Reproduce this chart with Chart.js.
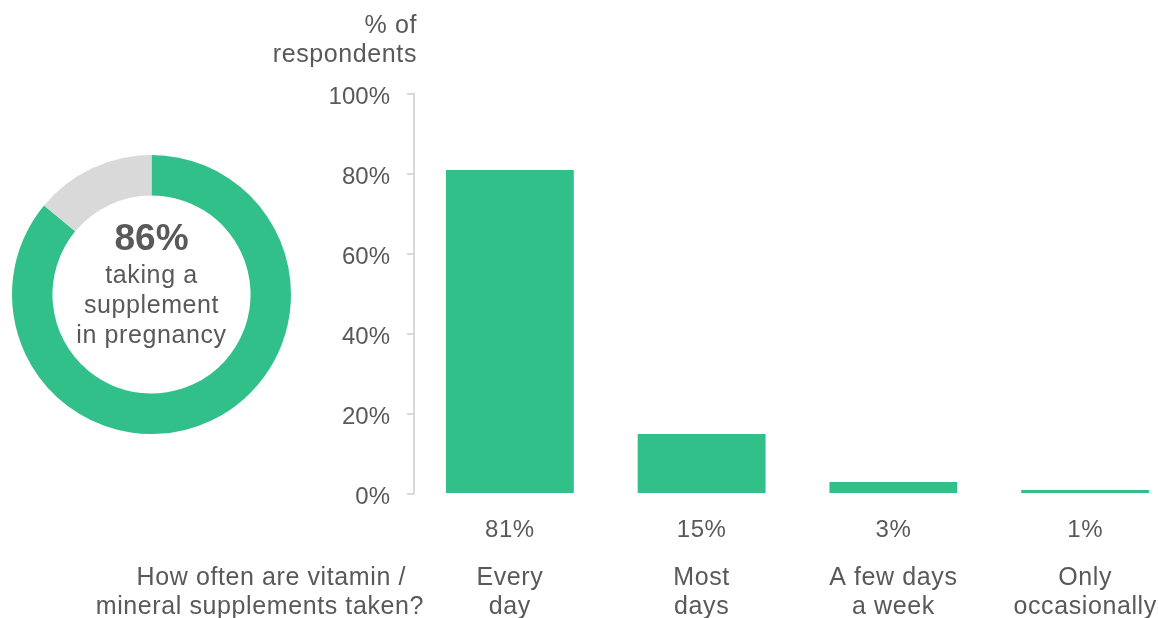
<!DOCTYPE html>
<html lang="en">

<head>
  <meta charset="UTF-8">
  <title>Supplement use in pregnancy</title>
  <script src="https://cdn.jsdelivr.net/npm/chart.js"></script>
  <style>
    html, body {
      margin: 0;
      padding: 0;
      width: 1158px;
      height: 618px;
      overflow: hidden;
      background: #fff;
    }

    #barChart {
      position: absolute;
      left: 0;
      top: 0;
    }

    #ringChart {
      position: absolute;
      left: 12px;
      top: 155px;
    }
  </style>
</head>

<body>
  <canvas id="ringChart" width="279" height="279"></canvas>
  <canvas id="barChart" width="1190" height="618"></canvas>

  <script>
    // share taking any supplement (ring) and how often they take it (bars)
    const takingSupplement = 86;
    const notTaking = 100 - takingSupplement;
    const ringLabel = ['taking a', 'supplement', 'in pregnancy'];

    const frequencyLabels = [['Every', 'day'], ['Most', 'days'], ['A few days', 'a week'], ['Only', 'occasionally']];
    const frequencyShares = [81, 15, 3, 1];
    const yTickStep = 20;
    const yTitle = ['% of', 'respondents'];
    const question = ['How often are vitamin /', 'mineral supplements taken?'];

    const verde = '#31c08a';
    const cinza = '#d9d9d9';
    const texto = '#595959';
    const fonte = "'Liberation Sans', Arial, sans-serif";

    Chart.defaults.font.family = fonte;
    Chart.defaults.color = texto;

    // texto no meio do anel
    const textoCentro = {
      id: 'textoCentro',
      afterDraw(chart) {
        const { ctx, chartArea } = chart;
        const cx = (chartArea.left + chartArea.right) / 2;
        const cy = (chartArea.top + chartArea.bottom) / 2;
        ctx.save();
        ctx.fillStyle = texto;
        ctx.textAlign = 'center';
        ctx.textBaseline = 'middle';
        ctx.font = 'bold 37px ' + fonte;
        ctx.fillText(takingSupplement + '%', cx, cy - 55);
        ctx.font = '25px ' + fonte;
        ctx.letterSpacing = '0.6px';
        ringLabel.forEach((linha, i) => {
          ctx.fillText(linha, cx, cy - 18 + i * 30);
        });
        ctx.restore();
      }
    };

    new Chart(document.getElementById('ringChart'), {
      type: 'doughnut',
      data: {
        labels: ['Taking a supplement', 'Not taking'],
        datasets: [{
          data: [takingSupplement, notTaking],
          backgroundColor: [verde, cinza],
          borderWidth: 0
        }]
      },
      options: {
        responsive: false,
        animation: false,
        cutout: '71%',
        plugins: {
          legend: { display: false },
          tooltip: { enabled: false }
        }
      },
      plugins: [textoCentro]
    });

    // rótulos do gráfico de barras: título do eixo, valores, categorias e pergunta
    const rotulosBarras = {
      id: 'rotulosBarras',
      afterDraw(chart) {
        const { ctx } = chart;
        const x = chart.scales.x;
        ctx.save();
        ctx.fillStyle = texto;
        ctx.textBaseline = 'middle';
        ctx.letterSpacing = '0.6px';

        ctx.font = '25px ' + fonte;
        ctx.textAlign = 'right';
        ctx.fillText(yTitle[0], 417, 26);
        ctx.fillText(yTitle[1], 417, 55);

        ctx.fillText(question[0], 406, 578);
        ctx.fillText(question[1], 424, 607);

        ctx.textAlign = 'center';
        ctx.font = '24px ' + fonte;
        frequencyShares.forEach((v, i) => {
          ctx.fillText(v + '%', x.getPixelForValue(i), 530);
        });

        ctx.font = '25px ' + fonte;
        frequencyLabels.forEach((linhas, i) => {
          linhas.forEach((linha, j) => {
            ctx.fillText(linha, x.getPixelForValue(i), 578 + j * 29);
          });
        });
        ctx.restore();
      }
    };

    new Chart(document.getElementById('barChart'), {
      type: 'bar',
      data: {
        labels: frequencyLabels.map(l => l.join(' ')),
        datasets: [{
          label: 'How often',
          data: frequencyShares,
          backgroundColor: verde,
          barPercentage: 0.667,
          categoryPercentage: 1
        }]
      },
      options: {
        responsive: false,
        animation: false,
        layout: {
          padding: { left: 0, top: 94, right: 9, bottom: 124 }
        },
        plugins: {
          legend: { display: false },
          tooltip: { enabled: false }
        },
        scales: {
          x: {
            display: false
          },
          y: {
            min: 0,
            max: 100,
            afterFit(scale) {
              scale.width = 414;
            },
            ticks: {
              stepSize: yTickStep,
              padding: 17,
              labelOffset: 3,
              color: texto,
              font: { size: 24 },
              callback: v => v + '%'
            },
            grid: {
              drawOnChartArea: false,
              drawTicks: true,
              tickLength: 7,
              color: cinza,
              lineWidth: 2
            },
            border: {
              display: true,
              color: cinza,
              width: 2
            }
          }
        }
      },
      plugins: [rotulosBarras]
    });
  </script>

</body>

</html>
